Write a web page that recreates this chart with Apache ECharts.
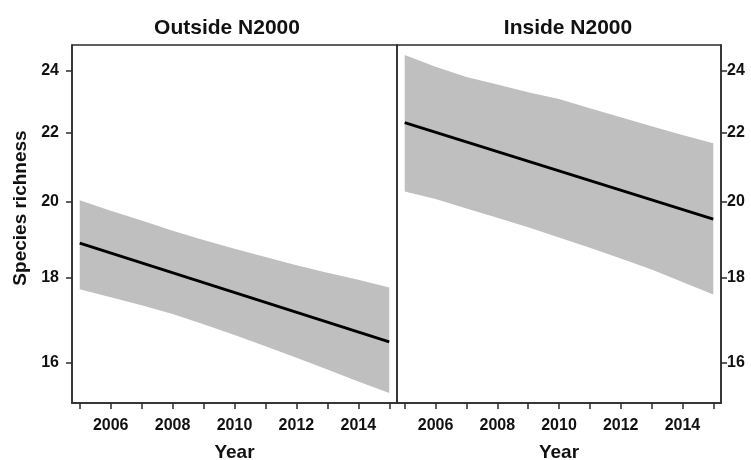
<!DOCTYPE html>
<html>
<head>
<meta charset="utf-8">
<script src="https://cdn.jsdelivr.net/npm/echarts@6/dist/echarts.min.js"></script>
<style>html,body{margin:0;padding:0;background:#fff;}#c{width:751px;height:460px;}</style>
</head>
<body>
<div id="c"></div>
<script>
// Data
const years = [2005, 2006, 2007, 2008, 2009, 2010, 2011, 2012, 2013, 2014, 2015];
const lineYears = [2005, 2015];
const panelTitles = ['Outside N2000', 'Inside N2000'];
const yTicks = [16, 18, 20, 22, 24];
const xTicks = [2005, 2006, 2007, 2008, 2009, 2010, 2011, 2012, 2013, 2014, 2015];
const xLabels = [2006, 2008, 2010, 2012, 2014];

// Outside N2000
const outsideMean  = [18.88, 16.46];
const outsideUpper = [20.04, 19.75, 19.48, 19.21, 18.96, 18.73, 18.52, 18.31, 18.12, 17.94, 17.75];
const outsideLower = [17.71, 17.51, 17.32, 17.11, 16.87, 16.62, 16.36, 16.10, 15.84, 15.58, 15.33];
// Inside N2000
const insideMean  = [22.32, 19.52];
const insideUpper = [24.52, 24.12, 23.78, 23.53, 23.28, 23.06, 22.77, 22.49, 22.21, 21.94, 21.69];
const insideLower = [20.28, 20.07, 19.81, 19.56, 19.30, 19.03, 18.76, 18.48, 18.20, 17.89, 17.58];

const FONT = '"Liberation Sans", Arial, sans-serif';
const TXT = '#111';
const AX = '#2b2b2b';
const BAND = '#bfbfbf';

const chart = echarts.init(document.getElementById('c'), null, {renderer: 'canvas'});

function xAxis(i) {
  return {
    type: 'value', gridIndex: i, min: 2004.75, max: 2015.25,
    axisLine: {show: true, onZero: false, lineStyle: {color: AX, width: 1.5}},
    axisTick: {show: true, customValues: xTicks, length: 6, lineStyle: {color: AX, width: 1.5}},
    axisLabel: {customValues: xLabels, formatter: v => String(Math.round(v)), color: TXT,
      fontFamily: FONT, fontWeight: 'bold', fontSize: 16, margin: 15},
    splitLine: {show: false},
    name: 'Year', nameLocation: 'middle', nameGap: 40,
    nameTextStyle: {color: TXT, fontFamily: FONT, fontWeight: 'bold', fontSize: 19}
  };
}
function yAxis(i, pos) {
  return {
    type: 'log', gridIndex: i, min: 15.12, max: 24.86, position: pos,
    axisLine: {show: true, lineStyle: {color: AX, width: 1.5}},
    axisTick: {show: true, customValues: yTicks, length: 6, lineStyle: {color: AX, width: 1.5}},
    axisLabel: {customValues: yTicks, formatter: v => String(Math.round(v)), color: TXT,
      fontFamily: FONT, fontWeight: 'bold', fontSize: 16, margin: pos === 'left' ? 13 : 6},
    splitLine: {show: false}, minorTick: {show: false}, minorSplitLine: {show: false}
  };
}
function pairs(xs, ys) { return xs.map((x, k) => [x, ys[k]]); }
function bandSeries(i, lower, upper) {
  return {
    type: 'custom', xAxisIndex: i, yAxisIndex: i, silent: true, z: 1,
    data: years.map((y, k) => [y, lower[k], upper[k]]),
    encode: {x: 0, y: [1, 2]},
    renderItem: function (params, api) {
      if (params.dataIndex !== 0) return;
      const pts = [];
      for (let k = 0; k < years.length; k++) pts.push(api.coord([years[k], upper[k]]));
      for (let k = years.length - 1; k >= 0; k--) pts.push(api.coord([years[k], lower[k]]));
      return {type: 'polygon', shape: {points: pts}, style: {fill: BAND, stroke: null}};
    }
  };
}
function meanSeries(i, mean) {
  return {type: 'line', xAxisIndex: i, yAxisIndex: i, symbol: 'none', silent: true,
    lineStyle: {color: '#000', width: 2.8}, data: pairs(lineYears, mean), z: 3};
}

chart.setOption({
  animation: false,
  backgroundColor: '#fff',
  grid: [
    {left: 72, top: 45, width: 325, height: 358, containLabel: false, outerBoundsMode: 'none',
     show: true, borderColor: AX, borderWidth: 1.5, backgroundColor: 'transparent'},
    {left: 397, top: 45, width: 324, height: 358, containLabel: false, outerBoundsMode: 'none',
     show: true, borderColor: AX, borderWidth: 1.5, backgroundColor: 'transparent'}
  ],
  xAxis: [xAxis(0), xAxis(1)],
  yAxis: [yAxis(0, 'left'), yAxis(1, 'right')],
  series: [
    bandSeries(0, outsideLower, outsideUpper),
    meanSeries(0, outsideMean),
    bandSeries(1, insideLower, insideUpper),
    meanSeries(1, insideMean)
  ],
  graphic: [
    {type: 'text', x: 227, y: 28, style: {text: panelTitles[0], fill: TXT, font: 'bold 21px ' + FONT, align: 'center', verticalAlign: 'middle'}},
    {type: 'text', x: 568, y: 28, style: {text: panelTitles[1], fill: TXT, font: 'bold 21px ' + FONT, align: 'center', verticalAlign: 'middle'}},
    {type: 'text', x: 21, y: 208, rotation: Math.PI / 2, style: {text: 'Species richness', fill: TXT, font: 'bold 19px ' + FONT, align: 'center', verticalAlign: 'middle'}}
  ]
});
</script>
</body>
</html>
